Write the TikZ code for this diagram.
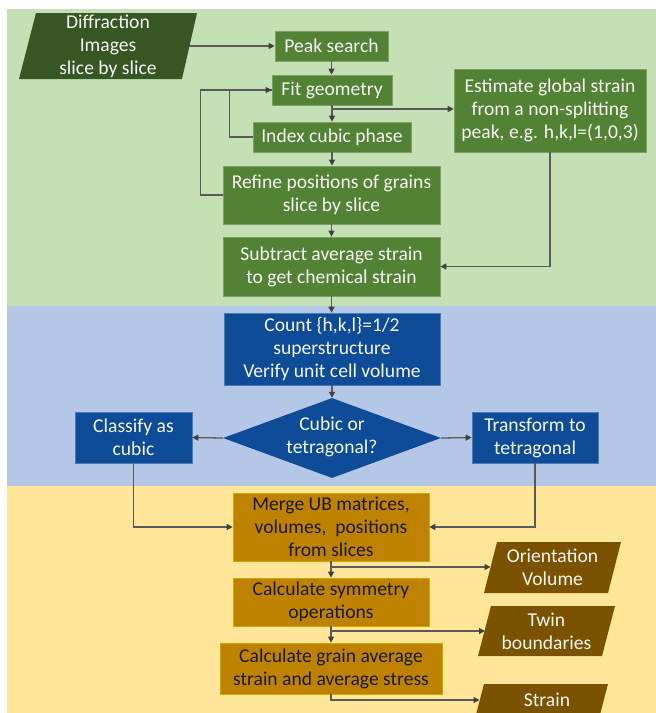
\documentclass[tikz,border=0pt]{standalone}
\usepackage{fontspec}
\setmainfont{Carlito}
\usetikzlibrary{arrows.meta,shapes.geometric}
\definecolor{gbg}{HTML}{C5E0B4}
\definecolor{gboxc}{HTML}{548235}
\definecolor{gpara}{HTML}{375623}
\definecolor{bbg}{HTML}{B4C7E7}
\definecolor{bboxc}{HTML}{0F4C97}
\definecolor{ybg}{HTML}{FFE699}
\definecolor{oboxc}{HTML}{BF8200}
\definecolor{opara}{HTML}{7A5200}
\definecolor{lnc}{HTML}{595959}
\definecolor{tipc}{HTML}{404040}
\definecolor{wtxt}{HTML}{F4F4F4}
\definecolor{ktxt}{HTML}{1A1A1A}
\begin{document}
\begin{tikzpicture}[x=1pt,y=-1pt,
  every node/.style={font=\fontsize{19.6}{23}\selectfont, align=center, inner sep=0pt},
  boxbase/.style={rectangle, line width=0.7pt},
  gb/.style={boxbase, fill=gboxc, draw=gboxc!75!white, text=wtxt},
  bb/.style={boxbase, fill=bboxc, draw=bboxc!75!white, text=wtxt},
  ob/.style={boxbase, fill=oboxc, draw=oboxc!70!yellow, text=ktxt},
  ptext/.style={text=wtxt},
  conn/.style={draw=lnc, line width=1.3pt, -{Triangle[length=6pt,width=6pt,color=tipc]}},
  plain/.style={draw=lnc, line width=1.3pt}]
\useasboundingbox (0,0) rectangle (656,713);
\clip (0,0) rectangle (656,713);
\fill[white] (0,0) rectangle (656,713);
\fill[gbg] (7,9) rectangle (656,306);
\fill[bbg] (7,306) rectangle (656,486);
\fill[ybg] (7,486) rectangle (656,713);

% input parallelogram
\fill[gpara] (36,13) -- (197,13) -- (182,79) -- (19,79) -- cycle;
\node[ptext] (diff) at (108,46) {Diffraction\\Images\\slice by slice};
\coordinate (diffR) at (189,46);

% green column
\node[gb, minimum width=113pt, minimum height=30pt] (peak) at (331.5,46) {Peak search};
\node[gb, minimum width=120pt, minimum height=30pt] (fit) at (332,90) {Fit geometry};
\node[gb, minimum width=158pt, minimum height=30pt] (index) at (332,137) {Index cubic phase};
\node[gb, minimum width=217pt, minimum height=58pt] (refine) at (331.5,195) {Refine positions of grains\\slice by slice};
\node[gb, minimum width=192pt, minimum height=83pt] (estimate) at (550,110.5) {Estimate global strain\\from a non-splitting\\peak, e.g. h,k,l=(1,0,3)};
\node[gb, minimum width=217pt, minimum height=59pt] (subtract) at (331.5,266.5) {Subtract average strain\\to get chemical strain};

% blue part
\node[bb, minimum width=216pt, minimum height=72pt] (count) at (332,349) {Count \{h,k,l\}=1/2\\superstructure\\Verify unit cell volume};
\node[diamond, fill=bboxc, minimum width=218pt, minimum height=80pt, inner sep=0pt] (dec) at (332,438) {};
\node[text=wtxt] (dectxt) at (332,437) {Cubic or\\tetragonal?};
\node[bb, minimum width=117pt, minimum height=51pt] (classify) at (133.5,437.5) {Classify as\\cubic};
\node[bb, minimum width=126pt, minimum height=51pt] (transform) at (535,437.5) {Transform to\\tetragonal};

% yellow part
\node[ob, minimum width=196pt, minimum height=68pt] (merge) at (331,527) {Merge UB matrices,\\volumes,\ \ positions\\from slices};
\node[ob, minimum width=196pt, minimum height=48pt] (calcsym) at (331,602) {Calculate symmetry\\operations};
\node[ob, minimum width=222pt, minimum height=51pt] (calcgrain) at (331,668.5) {Calculate grain average\\strain and average stress};

% output parallelograms
\fill[opara] (497,542) -- (621,542) -- (608,593) -- (484,593) -- cycle;
\node[ptext] (orient) at (552.5,567.5) {Orientation\\Volume};
\fill[opara] (491,606) -- (615,606) -- (602,656) -- (478,656) -- cycle;
\node[ptext] (twin) at (546.5,631) {Twin\\boundaries};
\fill[opara] (484,684) -- (608,684) -- (596,730) -- (472,730) -- cycle;
\node[ptext] (strain) at (547,700) {Strain};
\coordinate (oin) at (490.5,567);
\coordinate (tin) at (485,631);
\coordinate (sin) at (479.5,700);

% connectors
\draw[conn] (diffR) -- (peak.west);
\draw[conn] (peak.south) -- (peak.south |- fit.north);
\draw[conn] (fit.south) -- (index.north);
\coordinate (b1) at (332,109);
\draw[conn] (b1) -- (b1 -| estimate.west);
\draw[conn] (index.south) -- (index.south |- refine.north);
\draw[plain] (index.west) -- ++(-23,0) |- (fit.west);
\draw[conn] (refine.west) -- ++(-22,0) |- (fit.west);
\draw[conn] (refine.south) -- (refine.south |- subtract.north);
\draw[conn] (estimate.south) |- (subtract.east);
\draw[conn] (subtract.south) -- (subtract.south |- count.north);
\draw[conn] (count.south) -- (dec.north);
\draw[conn] (dec.west) -- (classify.east);
\draw[conn] (dec.east) -- (transform.west);
\draw[conn] (classify.south) |- (merge.west);
\draw[conn] (transform.south) |- (merge.east);
\draw[conn] (merge.south) -- (merge.south |- calcsym.north);
\coordinate (b2) at (331,567);
\draw[conn] (b2) -- (oin);
\draw[conn] (calcsym.south) -- (calcsym.south |- calcgrain.north);
\coordinate (b3) at (331,631);
\draw[conn] (b3) -- (tin);
\draw[conn] (calcgrain.south) |- (sin);
\end{tikzpicture}
\end{document}
